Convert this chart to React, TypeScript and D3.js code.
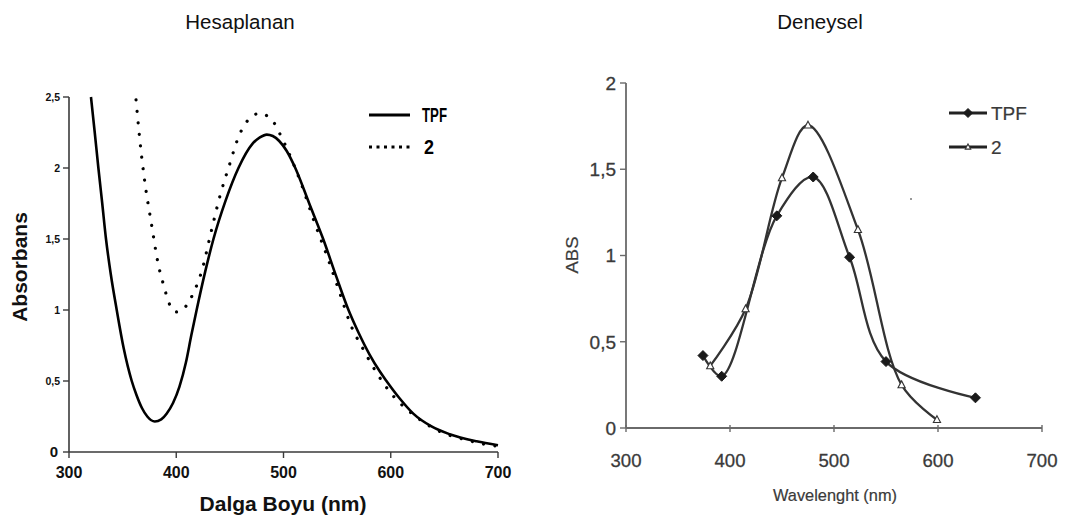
import React from "react";
import * as d3 from "d3";

// ---------- Left chart (Hesaplanan) ----------
const calcTitle = "Hesaplanan";
const calcXTicks = [300, 400, 500, 600, 700];
const calcYTicks = [0, 0.5, 1, 1.5, 2, 2.5];
const calcYTickLabels = ["0", "0,5", "1", "1,5", "2", "2,5"];
const calcXLabel = "Dalga Boyu (nm)";
const calcYLabel = "Absorbans";

const calcTpfWl = [320.5, 324, 327.4, 331, 334.5, 339, 344.5, 351, 358.5, 363, 368, 373, 380, 386, 391, 397, 403, 409, 414, 419, 427, 434.7, 446, 458, 471, 478, 484.4, 490, 496, 503, 511, 524, 537, 549, 560.6, 570, 580, 590, 596, 608, 621, 638, 655, 680, 700];
const calcTpfAbs = [2.5, 2.25, 2.0, 1.75, 1.5, 1.25, 1.0, 0.73, 0.5, 0.4, 0.31, 0.25, 0.215, 0.23, 0.27, 0.345, 0.46, 0.63, 0.82, 1.0, 1.27, 1.5, 1.77, 2.0, 2.17, 2.215, 2.235, 2.225, 2.19, 2.12, 2.0, 1.75, 1.5, 1.24, 1.0, 0.84, 0.69, 0.565, 0.5, 0.38, 0.27, 0.18, 0.125, 0.075, 0.047];

const calc2Wl = [362.5, 366, 370, 377, 383, 389, 392.7, 399.5, 404, 409, 416, 424, 431.6, 441, 448.7, 459.6, 467.3, 473, 479, 485, 490.7, 497, 503, 517, 528, 542, 553, 562, 574.6, 587, 602.6, 613.5, 625, 637, 649, 669.5, 686.6, 700];
const calc2Abs = [2.48, 2.2, 1.94, 1.6, 1.33, 1.155, 1.06, 0.986, 0.99, 1.026, 1.12, 1.28, 1.52, 1.81, 2.0, 2.246, 2.34, 2.375, 2.387, 2.365, 2.324, 2.235, 2.14, 1.88, 1.636, 1.35, 1.108, 0.908, 0.72, 0.556, 0.392, 0.31, 0.24, 0.18, 0.134, 0.087, 0.056, 0.04];

const calcSeriesNames = ["TPF", "2"];

// ---------- Right chart (Deneysel) ----------
const expTitle = "Deneysel";
const expXTicks = [300, 400, 500, 600, 700];
const expYTicks = [0, 0.5, 1, 1.5, 2];
const expYTickLabels = ["0", "0,5", "1", "1,5", "2"];
const expXLabel = "Wavelenght (nm)";
const expYLabel = "ABS";

const expTpfWl = [374, 392, 445, 480, 515, 550, 636];
const expTpfAbs = [0.42, 0.3, 1.23, 1.455, 0.99, 0.385, 0.175];
const exp2Wl = [381, 415, 450, 475, 523, 565, 599];
const exp2Abs = [0.36, 0.69, 1.45, 1.755, 1.15, 0.25, 0.048];

const expSeriesNames = ["TPF", "2"];

const FONT = "'Liberation Sans', Arial, Helvetica, sans-serif";

function zip(xs: number[], ys: number[]): [number, number][] {
  return xs.map((x, i) => [x, ys[i]]);
}

function LeftChart() {
  const x = d3.scaleLinear().domain([300, 700]).range([69, 498]);
  const y = d3.scaleLinear().domain([0, 2.5]).range([452, 97]);
  const line = d3
    .line<[number, number]>()
    .x((d) => x(d[0]))
    .y((d) => y(d[1]))
    .curve(d3.curveMonotoneX);
  const tpf = zip(calcTpfWl, calcTpfAbs);
  const s2 = zip(calc2Wl, calc2Abs);
  const axisColor = "#3a3a3a";
  return (
    <g>
      <text x={240} y={29} textAnchor="middle" fontFamily={FONT} fontSize={20.5} fill="#111">
        {calcTitle}
      </text>
      {/* axes */}
      <line x1={x(300)} x2={x(300)} y1={y(2.5)} y2={y(0)} stroke={axisColor} strokeWidth={1.6} />
      <line x1={x(300)} x2={x(700)} y1={y(0)} y2={y(0)} stroke={axisColor} strokeWidth={1.6} />
      {calcYTicks.map((t, i) => (
        <g key={"cy" + i}>
          <line x1={x(300) - 6} x2={x(300)} y1={y(t)} y2={y(t)} stroke={axisColor} strokeWidth={1.4} />
          <text
            x={t === 0 ? 58 : 60}
            y={y(t)}
            dy="0.36em"
            textAnchor="end"
            fontFamily={FONT}
            fontWeight="bold"
            fontSize={t === 0 ? 15 : 10.5}
            fill="#111"
          >
            {calcYTickLabels[i]}
          </text>
        </g>
      ))}
      {calcXTicks.map((t, i) => (
        <g key={"cx" + i}>
          <line x1={x(t)} x2={x(t)} y1={y(0)} y2={y(0) + 6} stroke={axisColor} strokeWidth={1.4} />
          <text x={x(t)} y={478} textAnchor="middle" fontFamily={FONT} fontWeight="bold" fontSize={16} fill="#111">
            {t}
          </text>
        </g>
      ))}
      <text x={283} y={511} textAnchor="middle" fontFamily={FONT} fontWeight="bold" fontSize={21} fill="#111">
        {calcXLabel}
      </text>
      <text
        transform={`translate(27,267) rotate(-90)`}
        textAnchor="middle"
        fontFamily={FONT}
        fontWeight="bold"
        fontSize={21}
        fill="#111"
      >
        {calcYLabel}
      </text>
      {/* curves */}
      <path d={line(tpf) || ""} fill="none" stroke="#000" strokeWidth={2.6} />
      <path
        d={line(s2) || ""}
        fill="none"
        stroke="#000"
        strokeWidth={3.2}
        strokeLinecap="round"
        strokeDasharray="0.01 11.5"
      />
      {/* legend */}
      <line x1={369} x2={410} y1={115} y2={115} stroke="#000" strokeWidth={3} />
      <text x={422} y={115} dy="0.36em" fontFamily={FONT} fontWeight="bold" fontSize={20} textLength={25} lengthAdjust="spacingAndGlyphs" fill="#000">
        {calcSeriesNames[0]}
      </text>
      <line x1={369} x2={410} y1={147} y2={147} stroke="#000" strokeWidth={3} strokeDasharray="3 4.5" />
      <text x={424} y={147} dy="0.36em" fontFamily={FONT} fontWeight="bold" fontSize={20} textLength={10} lengthAdjust="spacingAndGlyphs" fill="#000">
        {calcSeriesNames[1]}
      </text>
    </g>
  );
}

function Diamond({ cx, cy, r }: { cx: number; cy: number; r: number }) {
  return <path d={`M${cx},${cy - r}L${cx + r},${cy}L${cx},${cy + r}L${cx - r},${cy}Z`} fill="#1a1a1a" stroke="#1a1a1a" strokeWidth={1} />;
}
function Triangle({ cx, cy, r }: { cx: number; cy: number; r: number }) {
  return (
    <path
      d={`M${cx},${cy - r}L${cx + r * 0.9},${cy + r * 0.7}L${cx - r * 0.9},${cy + r * 0.7}Z`}
      fill="#fff"
      stroke="#333"
      strokeWidth={1.1}
    />
  );
}

function RightChart() {
  const x = d3.scaleLinear().domain([300, 700]).range([626, 1042]);
  const y = d3.scaleLinear().domain([0, 2]).range([428, 83]);
  const line = d3
    .line<[number, number]>()
    .x((d) => x(d[0]))
    .y((d) => y(d[1]))
    .curve(d3.curveCatmullRom.alpha(0.5));
  const tpf = zip(expTpfWl, expTpfAbs);
  const s2 = zip(exp2Wl, exp2Abs);
  const axisColor = "#6a6a6a";
  const textColor = "#3a3a3a";
  return (
    <g>
      <text x={820} y={29} textAnchor="middle" fontFamily={FONT} fontSize={20.5} fill="#111">
        {expTitle}
      </text>
      <line x1={x(300)} x2={x(300)} y1={y(2)} y2={y(0)} stroke={axisColor} strokeWidth={1.8} />
      <line x1={x(300)} x2={x(700)} y1={y(0)} y2={y(0)} stroke={axisColor} strokeWidth={1.8} />
      {expYTicks.map((t, i) => (
        <g key={"ey" + i}>
          <line x1={x(300) - 6} x2={x(300)} y1={y(t)} y2={y(t)} stroke={axisColor} strokeWidth={1.4} />
          <text x={616} y={y(t)} dy="0.36em" textAnchor="end" fontFamily={FONT} fontSize={19} fill={textColor} stroke={textColor} strokeWidth={0.3}>
            {expYTickLabels[i]}
          </text>
        </g>
      ))}
      {expXTicks.map((t, i) => (
        <g key={"ex" + i}>
          <line x1={x(t)} x2={x(t)} y1={y(0) - 3} y2={y(0) + 4} stroke={axisColor} strokeWidth={1.4} />
          <text x={x(t)} y={467} textAnchor="middle" fontFamily={FONT} fontSize={19} textLength={31} lengthAdjust="spacingAndGlyphs" fill={textColor} stroke={textColor} strokeWidth={0.3}>
            {t}
          </text>
        </g>
      ))}
      <text x={835} y={501} textAnchor="middle" fontFamily={FONT} fontSize={17} textLength={124} lengthAdjust="spacingAndGlyphs" fill={textColor} stroke={textColor} strokeWidth={0.2}>
        {expXLabel}
      </text>
      <text
        transform={`translate(578,255) rotate(-90)`}
        textAnchor="middle"
        fontFamily={FONT}
        fontSize={17}
        textLength={37}
        lengthAdjust="spacingAndGlyphs"
        fill={textColor}
        stroke={textColor}
        strokeWidth={0.2}
      >
        {expYLabel}
      </text>
      <path d={line(tpf) || ""} fill="none" stroke="#333" strokeWidth={2.3} />
      <path d={line(s2) || ""} fill="none" stroke="#333" strokeWidth={2.3} />
      {tpf.map((d, i) => (
        <Diamond key={"d" + i} cx={x(d[0])} cy={y(d[1])} r={5} />
      ))}
      {s2.map((d, i) => (
        <Triangle key={"t" + i} cx={x(d[0])} cy={y(d[1])} r={4} />
      ))}
      {/* legend */}
      <line x1={949} x2={987} y1={113} y2={113} stroke="#222" strokeWidth={2.8} />
      <Diamond cx={968} cy={113} r={4.5} />
      <text x={991} y={113} dy="0.36em" fontFamily={FONT} fontSize={19} fill={textColor} stroke={textColor} strokeWidth={0.2}>
        {expSeriesNames[0]}
      </text>
      <line x1={949} x2={987} y1={147} y2={147} stroke="#222" strokeWidth={2.8} />
      <Triangle cx={968} cy={147} r={3} />
      <text x={991} y={147} dy="0.36em" fontFamily={FONT} fontSize={19} fill={textColor} stroke={textColor} strokeWidth={0.2}>
        {expSeriesNames[1]}
      </text>
      <circle cx={911} cy={199} r={1} fill="#777" />
    </g>
  );
}

export default function App() {
  return (
    <svg
      width={1080}
      height={522}
      viewBox="0 0 1080 522"
      style={{ position: "absolute", left: 0, top: 0, background: "#fff" }}
    >
      <rect x={0} y={0} width={1080} height={522} fill="#fff" />
      <LeftChart />
      <RightChart />
    </svg>
  );
}
